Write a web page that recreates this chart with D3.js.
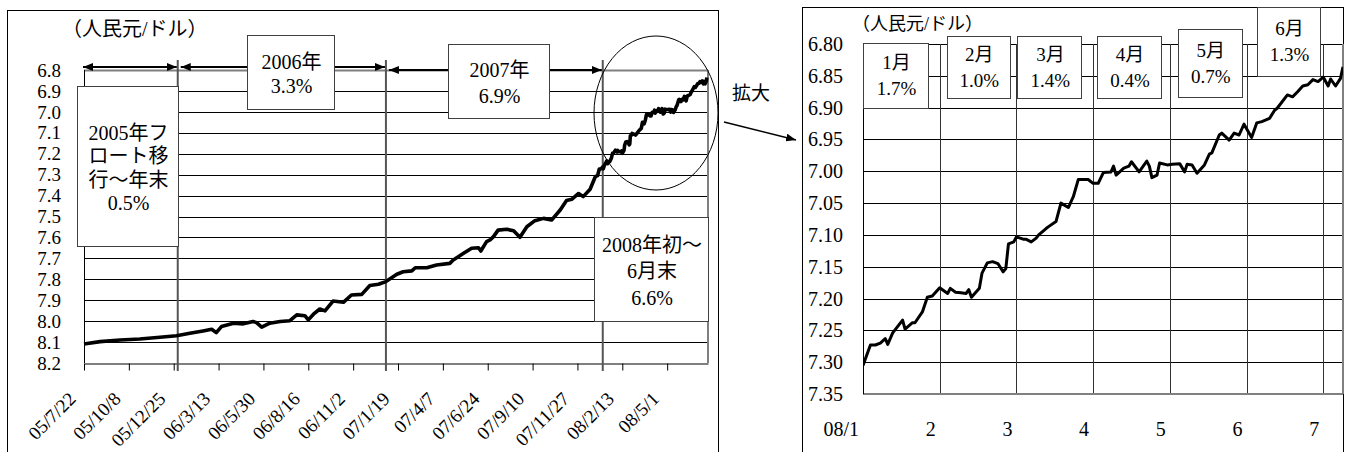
<!DOCTYPE html>
<html>
<head>
<meta charset="utf-8">
<script src="https://cdn.jsdelivr.net/npm/d3@7"></script>
<style>
  html, body { margin: 0; padding: 0; background: #fff; }
  svg { display: block; }
</style>
</head>
<body>
<svg id="chart" width="1350" height="452" font-family="Liberation Serif, Noto Sans CJK JP, serif"></svg>
<script>
// ---- Data: CNY per USD (axis inverted: stronger yuan plotted higher) ----
const histDates = [
  "2005-07-22","2005-08-19","2005-09-23","2005-10-27","2005-12-01","2005-12-30",
  "2006-01-22","2006-02-14","2006-03-01","2006-03-09","2006-03-18","2006-04-08",
  "2006-04-25","2006-05-12","2006-05-18","2006-05-27","2006-06-10","2006-06-28",
  "2006-07-15","2006-07-27","2006-08-10","2006-08-16","2006-08-25","2006-09-05",
  "2006-09-14","2006-09-28","2006-10-16","2006-10-30","2006-11-17","2006-12-01",
  "2006-12-16","2006-12-29","2007-01-17","2007-01-28","2007-02-12","2007-02-18",
  "2007-03-10","2007-03-27","2007-04-19","2007-04-25","2007-05-13","2007-05-27",
  "2007-06-08","2007-06-12","2007-06-22","2007-06-28","2007-07-04","2007-07-12",
  "2007-07-27","2007-08-08","2007-08-19","2007-08-31","2007-09-14","2007-09-29",
  "2007-10-13","2007-10-28","2007-11-08","2007-11-17","2007-11-29","2007-12-07",
  "2007-12-19","2007-12-28"
];
const histRates = [
  8.109, 8.098, 8.090, 8.085, 8.077, 8.070,
  8.058, 8.047, 8.039, 8.055, 8.026, 8.010,
  8.013, 8.002, 8.007, 8.029, 8.010, 8.002,
  7.998, 7.970, 7.974, 7.994, 7.967, 7.942,
  7.951, 7.904, 7.910, 7.875, 7.872, 7.830,
  7.824, 7.811, 7.776, 7.764, 7.760, 7.745,
  7.745, 7.732, 7.724, 7.708, 7.676, 7.652,
  7.649, 7.665, 7.620, 7.612, 7.596, 7.565,
  7.561, 7.568, 7.599, 7.549, 7.520, 7.509,
  7.517, 7.469, 7.424, 7.418, 7.390, 7.405,
  7.370, 7.310
];
const dates2008 = [
  "2008-01-01","2008-01-04","2008-01-06","2008-01-08","2008-01-10","2008-01-11","2008-01-13",
  "2008-01-17","2008-01-18","2008-01-21","2008-01-22","2008-01-25","2008-01-27","2008-01-29",
  "2008-02-01","2008-02-04","2008-02-05","2008-02-07","2008-02-09","2008-02-11","2008-02-12",
  "2008-02-13","2008-02-16","2008-02-17","2008-02-19","2008-02-21","2008-02-23","2008-02-25",
  "2008-02-26","2008-02-27","2008-02-29",
  "2008-03-01","2008-03-04","2008-03-05","2008-03-07","2008-03-09","2008-03-10","2008-03-13",
  "2008-03-14","2008-03-17","2008-03-19","2008-03-22","2008-03-24","2008-03-26","2008-03-30",
  "2008-04-01","2008-04-03","2008-04-05","2008-04-08","2008-04-09","2008-04-10","2008-04-13",
  "2008-04-15","2008-04-16","2008-04-19","2008-04-22","2008-04-23","2008-04-24","2008-04-26",
  "2008-04-27","2008-04-30",
  "2008-05-02","2008-05-05","2008-05-07","2008-05-08","2008-05-10","2008-05-12","2008-05-15",
  "2008-05-17","2008-05-18","2008-05-21","2008-05-22","2008-05-25","2008-05-27","2008-05-29",
  "2008-05-31",
  "2008-06-03","2008-06-05","2008-06-07","2008-06-10","2008-06-12","2008-06-13","2008-06-17",
  "2008-06-19","2008-06-21","2008-06-23","2008-06-25","2008-06-27","2008-06-29",
  "2008-07-01","2008-07-03","2008-07-04","2008-07-06","2008-07-08","2008-07-09"
];
const rates2008 = [
  7.305, 7.273, 7.273, 7.270, 7.263, 7.272, 7.254,
  7.234, 7.248, 7.238, 7.238, 7.221, 7.198, 7.196,
  7.183, 7.192, 7.184, 7.190, 7.191, 7.192, 7.186,
  7.198, 7.184, 7.160, 7.144, 7.142, 7.145, 7.158,
  7.153, 7.114, 7.111,
  7.103, 7.107, 7.107, 7.111, 7.105, 7.100, 7.090,
  7.087, 7.079, 7.050, 7.057, 7.040, 7.013, 7.013,
  7.019, 7.019, 7.002, 7.001, 6.992, 7.006, 6.995,
  6.992, 6.985, 7.001, 6.984, 6.992, 7.010, 7.006,
  6.987, 6.990,
  6.989, 6.988, 7.001, 6.989, 6.990, 7.003, 6.990,
  6.973, 6.971, 6.943, 6.940, 6.951, 6.940, 6.943,
  6.926,
  6.947, 6.924, 6.922, 6.917, 6.904, 6.901, 6.880,
  6.883, 6.875, 6.866, 6.864, 6.856, 6.859,
  6.852, 6.866, 6.855, 6.866, 6.854, 6.836
];

const leftXTickLabels = ["05/7/22","05/10/8","05/12/25","06/3/13","06/5/30","06/8/16","06/11/2",
                         "07/1/19","07/4/7","07/6/24","07/9/10","07/11/27","08/2/13","08/5/1"];
const leftYTicks = [6.8, 6.9, 7.0, 7.1, 7.2, 7.3, 7.4, 7.5, 7.6, 7.7, 7.8, 7.9, 8.0, 8.1, 8.2];
const rightYTicks = [6.80, 6.85, 6.90, 6.95, 7.00, 7.05, 7.10, 7.15, 7.20, 7.25, 7.30, 7.35];
const monthStarts = ["2008-01-01","2008-02-01","2008-03-01","2008-04-01","2008-05-01","2008-06-01","2008-07-01","2008-08-01"];
const monthTickLabels = ["08/1","2","3","4","5","6","7"];

const periodBounds = ["2005-07-22","2006-01-01","2006-12-29","2008-01-10"];
const periodTitles = [["2005年フ","ロート移","行〜年末"], ["2006年"], ["2007年"], ["2008年初〜","6月末"]];
const periodChanges = ["0.5%","3.3%","6.9%","6.6%"];
const monthNames = ["1月","2月","3月","4月","5月","6月"];
const monthChanges = ["1.7%","1.0%","1.4%","0.4%","0.7%","1.3%"];

// ---- Layout ----
const parse = d3.timeParse("%Y-%m-%d");
const parseTick = d3.timeParse("%y/%m/%d");
const svg = d3.select("#chart");
const L = { x0: 84, x1: 708, y0: 70, y1: 363 };
const R = { x0: 863, x1: 1343, y0: 44, y1: 394, month: 76.7 };
const periodBoxes = [
  { x: 77,  y: 86,  w: 101, h: 160, lh: 23.5 },
  { x: 247, y: 35,  w: 87,  h: 74,  lh: 24 },
  { x: 448, y: 44,  w: 101, h: 74,  lh: 26 },
  { x: 594, y: 217, w: 114, h: 104, lh: 26.5 }
];
const monthBoxes = [
  { dx: 0,   y: 43, w: 65, h: 65 },
  { dx: 7,   y: 36, w: 63, h: 62 },
  { dx: 1,   y: 36, w: 64, h: 62 },
  { dx: 4,   y: 36, w: 64, h: 62 },
  { dx: 8,   y: 29, w: 64, h: 68 },
  { dx: 10.5,y: 7,  w: 63, h: 69 }
];
const crisp = v => Math.round(v) + 0.5;

// arrow marker
const defs = svg.append("defs");
defs.append("marker").attr("id", "head")
  .attr("viewBox", "0 0 10 8").attr("refX", 10).attr("refY", 4)
  .attr("markerWidth", 10).attr("markerHeight", 8)
  .attr("markerUnits", "userSpaceOnUse").attr("orient", "auto-start-reverse")
  .append("path").attr("d", "M0,0L10,4L0,8Z").attr("fill", "#000");

// panel frames
svg.append("rect").attr("x", 7.5).attr("y", 10.5).attr("width", 711).attr("height", 460)
  .attr("fill", "none").attr("stroke", "#000");
svg.append("rect").attr("x", 802.5).attr("y", 7.5).attr("width", 541).attr("height", 460)
  .attr("fill", "none").attr("stroke", "#000");

// ================= Left panel =================
const xL = d3.scaleTime().domain([parse("2005-07-22"), parse("2008-07-11")]).range([L.x0, L.x1]);
const yL = d3.scaleLinear().domain([6.8, 8.2]).range([L.y0, L.y1]);
const gL = svg.append("g");

gL.selectAll("line.grid").data(leftYTicks.slice(1, -1)).join("line")
  .attr("x1", L.x0).attr("x2", L.x1)
  .attr("y1", d => crisp(yL(d))).attr("y2", d => crisp(yL(d)))
  .attr("stroke", "#000").attr("stroke-width", 1);
gL.append("line").attr("x1", L.x0).attr("x2", L.x1).attr("y1", crisp(L.y0)).attr("y2", crisp(L.y0))
  .attr("stroke", "#808080").attr("stroke-width", 2);
gL.append("line").attr("x1", L.x1).attr("x2", L.x1).attr("y1", L.y0).attr("y2", L.y1)
  .attr("stroke", "#808080").attr("stroke-width", 2);

gL.selectAll("text.yt").data(leftYTicks).join("text")
  .attr("x", 61).attr("y", d => yL(d)).attr("dy", "0.35em")
  .attr("text-anchor", "end").attr("font-size", 19).text(d3.format(".1f"));

// x axis
const tickDates = leftXTickLabels.map(parseTick);
gL.append("g").attr("transform", `translate(0,${crisp(L.y1)})`)
  .call(d3.axisBottom(xL).tickValues(tickDates).tickSize(7).tickSizeOuter(0).tickFormat(""))
  .call(g => g.selectAll("path,line").attr("stroke", "#000"));
gL.append("line").attr("x1", crisp(L.x0)).attr("x2", crisp(L.x0)).attr("y1", L.y0).attr("y2", L.y1)
  .attr("stroke", "#000");
gL.selectAll("text.xt").data(tickDates).join("text")
  .attr("transform", (d) => `translate(${xL(d) - 7},400) rotate(-45)`)
  .attr("text-anchor", "end").attr("font-size", 19)
  .text((d, i) => leftXTickLabels[i]);

// period dividers
const bounds = periodBounds.map(parse);
gL.selectAll("line.div").data(bounds.slice(1)).join("line")
  .attr("x1", d => xL(d)).attr("x2", d => xL(d)).attr("y1", 60).attr("y2", 371)
  .attr("stroke", "#555").attr("stroke-width", 2);

// rate line
const histSeries = histDates.map((d, i) => ({ date: parse(d), v: histRates[i] }));
const series2008 = dates2008.map((d, i) => ({ date: parse(d), v: rates2008[i] }));
const fullSeries = histSeries.concat(series2008);
gL.append("path").datum(fullSeries)
  .attr("fill", "none").attr("stroke", "#000").attr("stroke-width", 3.6)
  .attr("stroke-linejoin", "round")
  .attr("d", d3.line().x(d => xL(d.date)).y(d => yL(d.v)));

// period arrows
const arrowY = [67, 67, 70];
gL.selectAll("line.arr").data(d3.range(3)).join("line")
  .attr("x1", i => xL(bounds[i]) + (i ? 3 : -1)).attr("x2", i => xL(bounds[i + 1]) - 1)
  .attr("y1", i => arrowY[i]).attr("y2", i => arrowY[i])
  .attr("stroke", "#000").attr("stroke-width", 2)
  .attr("marker-start", "url(#head)").attr("marker-end", "url(#head)");

// period boxes
periodBoxes.forEach((b, i) => {
  const lines = periodTitles[i].concat([periodChanges[i]]);
  gL.append("rect").attr("x", b.x + 0.5).attr("y", b.y + 0.5).attr("width", b.w).attr("height", b.h)
    .attr("fill", "#fff").attr("stroke", "#404040");
  const cy = b.y + b.h / 2 + 2;
  lines.forEach((t, j) => {
    gL.append("text").attr("x", b.x + b.w / 2 + 1)
      .attr("y", cy + (j - (lines.length - 1) / 2) * b.lh).attr("dy", "0.35em")
      .attr("text-anchor", "middle").attr("font-size", 20).text(t);
  });
});

// unit label
svg.append("text").attr("x", 62).attr("y", 29).attr("dy", "0.35em")
  .attr("font-size", 20).text("（人民元/ドル）");

// zoom ellipse + pointer
svg.append("ellipse").attr("cx", 656).attr("cy", 113).attr("rx", 62).attr("ry", 77)
  .attr("fill", "none").attr("stroke", "#000");
svg.append("text").attr("x", 732).attr("y", 93).attr("dy", "0.35em").attr("font-size", 19).text("拡大");
svg.append("line").attr("x1", 724).attr("y1", 122).attr("x2", 796).attr("y2", 140)
  .attr("stroke", "#000").attr("stroke-width", 1.5).attr("marker-end", "url(#head)");

// ================= Right panel =================
const months = monthStarts.map(parse);
const xR = d3.scaleTime().domain(months).range(months.map((d, i) => R.x0 + i * R.month));
const yR = d3.scaleLinear().domain([6.80, 7.35]).range([R.y0, R.y1]);
const gR = svg.append("g");
gR.append("clipPath").attr("id", "clipR").append("rect")
  .attr("x", R.x0).attr("y", 0).attr("width", R.x1 - R.x0).attr("height", R.y1);

gR.selectAll("line.grid").data(rightYTicks.slice(0, -1)).join("line")
  .attr("x1", R.x0).attr("x2", R.x1)
  .attr("y1", d => crisp(yR(d))).attr("y2", d => crisp(yR(d)))
  .attr("stroke", "#000");
gR.selectAll("line.vgrid").data(months.slice(1, 7)).join("line")
  .attr("x1", d => crisp(xR(d))).attr("x2", d => crisp(xR(d)))
  .attr("y1", R.y0).attr("y2", R.y1).attr("stroke", "#333");
gR.append("line").attr("x1", R.x0).attr("x2", R.x1).attr("y1", R.y1).attr("y2", R.y1)
  .attr("stroke", "#808080").attr("stroke-width", 2);
gR.append("line").attr("x1", R.x1).attr("x2", R.x1).attr("y1", R.y0).attr("y2", R.y1)
  .attr("stroke", "#808080").attr("stroke-width", 2);
gR.append("line").attr("x1", crisp(R.x0)).attr("x2", crisp(R.x0)).attr("y1", R.y0).attr("y2", R.y1)
  .attr("stroke", "#000");

gR.selectAll("text.yt").data(rightYTicks).join("text")
  .attr("x", 843).attr("y", d => yR(d)).attr("dy", "0.35em")
  .attr("text-anchor", "end").attr("font-size", 20).text(d3.format(".2f"));
gR.selectAll("text.xt").data(monthTickLabels).join("text")
  .attr("x", (d, i) => xR(months[i]) - 4).attr("y", 436)
  .attr("text-anchor", "end").attr("font-size", 20).text(d => d);

gR.append("path").datum(series2008).attr("clip-path", "url(#clipR)")
  .attr("fill", "none").attr("stroke", "#000").attr("stroke-width", 3)
  .attr("stroke-linejoin", "round")
  .attr("d", d3.line().x(d => xR(d.date)).y(d => yR(d.v)));

monthBoxes.forEach((b, i) => {
  const x = xR(months[i]) + b.dx;
  gR.append("rect").attr("x", Math.round(x) + 0.5).attr("y", b.y + 0.5).attr("width", b.w).attr("height", b.h)
    .attr("fill", "#fff").attr("stroke", "#404040");
  const cy = b.y + b.h / 2;
  [monthNames[i], monthChanges[i]].forEach((t, j) => {
    gR.append("text").attr("x", x + b.w / 2 + 1).attr("y", cy + (j ? 13 : -13)).attr("dy", "0.35em")
      .attr("text-anchor", "middle").attr("font-size", 19).text(t);
  });
});

svg.append("text").attr("x", 852).attr("y", 24).attr("dy", "0.35em")
  .attr("font-size", 18).text("（人民元/ドル）");
</script>
</body>
</html>
